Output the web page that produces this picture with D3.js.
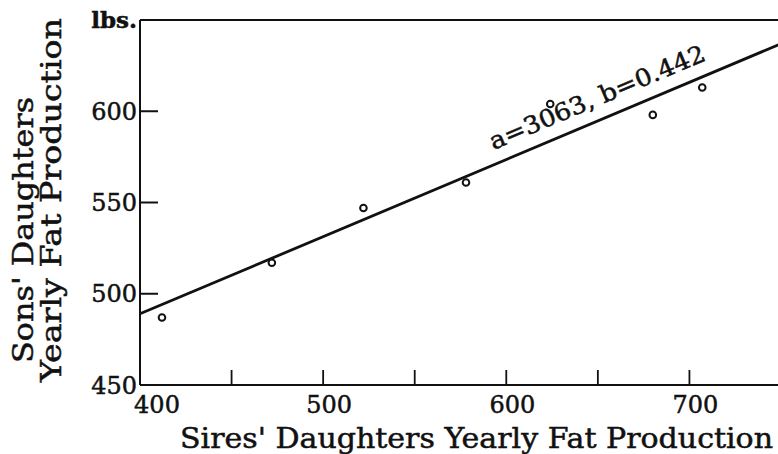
<!DOCTYPE html>
<html>
<head>
<meta charset="utf-8">
<script src="https://cdn.jsdelivr.net/npm/d3@7"></script>
<style>
  body { margin: 0; background: #fff; }
  text { font-family: 'DejaVu Serif', serif; fill: #111; stroke: #111; stroke-width: 0.5px; }
</style>
</head>
<body>
<script>
// data
var sireFat = [412, 472, 522, 578, 624, 680, 707];
var sonFat = [487, 517, 547, 561, 604, 598, 613];
var fitX = [400, 750];
var fitY = [489, 637];
var xTicks = [450, 500, 550, 600, 650, 700];
var xLabels = [400, 500, 600, 700];
var yTicks = [500, 550, 600];
var yLabels = [450, 500, 550, 600];
var unitLabel = 'lbs.';
var fitText = 'a=3063, b=0.442';

var width = 778;
var height = 454;

var svg = d3.select('body').append('svg')
  .attr('width', width)
  .attr('height', height);

var x = d3.scaleLinear().domain([400, 750]).range([140, 781]);
var y = d3.scaleLinear().domain([450, 650]).range([385, 20]);

var ink = '#111';

// frame: left, top, bottom
svg.append('line').attr('x1', x(400)).attr('x2', x(400)).attr('y1', y(650)).attr('y2', y(450))
  .attr('stroke', ink).attr('stroke-width', 2);
svg.append('line').attr('x1', x(400)).attr('x2', width).attr('y1', y(650)).attr('y2', y(650))
  .attr('stroke', ink).attr('stroke-width', 2);
svg.append('line').attr('x1', x(400)).attr('x2', width).attr('y1', y(450)).attr('y2', y(450))
  .attr('stroke', ink).attr('stroke-width', 2.2);

// x ticks point up into the plot
svg.selectAll('.xtick').data(xTicks).enter().append('line')
  .attr('class', 'xtick')
  .attr('x1', function(d) { return x(d); })
  .attr('x2', function(d) { return x(d); })
  .attr('y1', y(450))
  .attr('y2', y(450) - 15)
  .attr('stroke', ink).attr('stroke-width', 1.8);

svg.selectAll('.xlab').data(xLabels).enter().append('text')
  .attr('class', 'xlab')
  .attr('x', function(d) { return x(d) + (d === 400 ? 17 : 6); })
  .attr('y', 413)
  .attr('text-anchor', 'middle')
  .style('font-size', '24px')
  .text(function(d) { return d; });

// y ticks point right
svg.selectAll('.ytick').data(yTicks).enter().append('line')
  .attr('class', 'ytick')
  .attr('x1', x(400))
  .attr('x2', x(400) + 18)
  .attr('y1', function(d) { return y(d); })
  .attr('y2', function(d) { return y(d); })
  .attr('stroke', ink).attr('stroke-width', 2);

svg.selectAll('.ylab').data(yLabels).enter().append('text')
  .attr('class', 'ylab')
  .attr('x', 137)
  .attr('y', function(d) { return y(d); })
  .attr('dy', '0.36em')
  .attr('text-anchor', 'end')
  .style('font-size', '24px')
  .text(function(d) { return d; });

svg.append('text')
  .attr('x', 137)
  .attr('y', 28)
  .attr('text-anchor', 'end')
  .style('font-size', '23px')
  .style('font-weight', 'bold')
  .text(unitLabel);

// fitted line
var line = d3.line()
  .x(function(d) { return x(d[0]); })
  .y(function(d) { return y(d[1]); });

svg.append('path')
  .datum(d3.zip(fitX, fitY))
  .attr('d', line)
  .attr('fill', 'none')
  .attr('stroke', ink)
  .attr('stroke-width', 2.8);

// points
svg.selectAll('.pt').data(d3.zip(sireFat, sonFat)).enter().append('circle')
  .attr('class', 'pt')
  .attr('cx', function(d) { return x(d[0]); })
  .attr('cy', function(d) { return y(d[1]); })
  .attr('r', 3.3)
  .attr('fill', '#fff')
  .attr('stroke', ink)
  .attr('stroke-width', 2);

// label along the line
var ang = Math.atan2(y(fitY[1]) - y(fitY[0]), x(fitX[1]) - x(fitX[0])) * 180 / Math.PI;
var lx = x(593);
var ly = y(fitY[0] + (593 - fitX[0]) * (fitY[1] - fitY[0]) / (fitX[1] - fitX[0])) - 15;
svg.append('text')
  .attr('transform', 'translate(' + lx + ',' + ly + ') rotate(' + ang + ')')
  .attr('textLength', 232)
  .attr('lengthAdjust', 'spacingAndGlyphs')
  .style('font-size', '24px')
  .text(fitText);

// axis titles
svg.append('text')
  .attr('x', 180)
  .attr('y', 448)
  .attr('textLength', 593)
  .attr('lengthAdjust', 'spacingAndGlyphs')
  .style('font-size', '28px')
  .text("Sires' Daughters Yearly Fat Production");

svg.append('text')
  .attr('transform', 'translate(33,363) rotate(-90)')
  .attr('textLength', 266)
  .attr('lengthAdjust', 'spacingAndGlyphs')
  .style('font-size', '27px')
  .text("Sons' Daughters");

svg.append('text')
  .attr('transform', 'translate(61,382) rotate(-90)')
  .attr('textLength', 364)
  .attr('lengthAdjust', 'spacingAndGlyphs')
  .style('font-size', '27px')
  .text('Yearly Fat Production');
</script>
</body>
</html>
